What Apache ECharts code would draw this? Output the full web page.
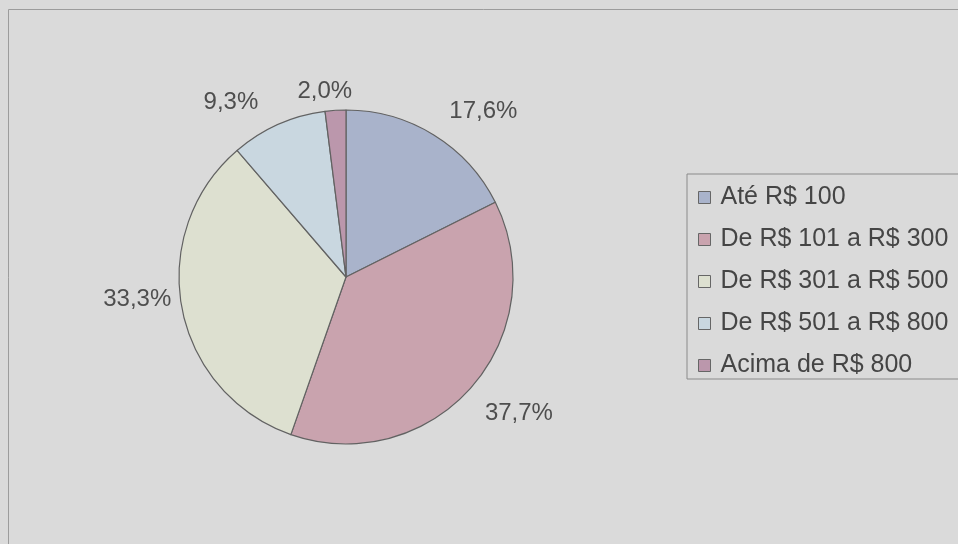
<!DOCTYPE html>
<html>
<head>
<meta charset="utf-8">
<script src="https://cdn.jsdelivr.net/npm/echarts@6/dist/echarts.min.js"></script>
<style>
  html, body { margin: 0; padding: 0; background: #dadada; }
  #chart { width: 958px; height: 544px; }
</style>
</head>
<body>
<div id="chart"></div>
<script>
// Faixas de gasto e participação (%)
const categories = ['Até R$ 100', 'De R$ 101 a R$ 300', 'De R$ 301 a R$ 500', 'De R$ 501 a R$ 800', 'Acima de R$ 800'];
const shares = [17.6, 37.7, 33.3, 9.3, 2.0];
const sliceColors = ['#a9b3cb', '#c9a3ae', '#dde0d0', '#c9d7e0', '#bb97ac'];
// Pequenos ajustes de posição dos rótulos percentuais (px)
const labelNudge = [[-3, -5], [-10, 12], [18, -13], [-4, -2], [25, 3]];

const chart = echarts.init(document.getElementById('chart'), null, { renderer: 'canvas' });

const fmt = v => v.toFixed(1).replace('.', ',') + '%';

chart.setOption({
  backgroundColor: '#dadada',
  animation: false,
  textStyle: { fontFamily: 'Liberation Sans, Arial, sans-serif' },
  graphic: [{
    type: 'rect',
    silent: true,
    shape: { x: 8.5, y: 9.5, width: 1000, height: 600 },
    style: { fill: 'none', stroke: '#9c9c9c', lineWidth: 1 }
  }],
  legend: {
    orient: 'vertical',
    left: 687,
    top: 174,
    data: categories,
    icon: 'rect',
    itemWidth: 12,
    itemHeight: 12,
    itemGap: 17,
    padding: [11, 60, 1, 11],
    borderColor: '#8a8a8a',
    borderWidth: 1,
    backgroundColor: '#dadada',
    selectedMode: false,
    textStyle: { fontSize: 25, color: '#454545', fontFamily: 'Liberation Sans, Arial, sans-serif', padding: [0, 0, 0, 5] },
    itemStyle: { borderColor: '#666', borderWidth: 1 }
  },
  series: [{
    type: 'pie',
    center: [346, 277],
    radius: 167,
    startAngle: 90,
    clockwise: true,
    avoidLabelOverlap: false,
    itemStyle: { borderColor: '#626262', borderWidth: 1.2 },
    label: {
      show: true,
      position: 'outside',
      formatter: p => fmt(p.value),
      fontSize: 24,
      color: '#4e4e4e',
      fontFamily: 'Liberation Sans, Arial, sans-serif'
    },
    labelLine: { show: false, length: 22, length2: 2 },
    labelLayout: p => ({ dx: labelNudge[p.dataIndex][0], dy: labelNudge[p.dataIndex][1] }),
    emphasis: { disabled: true },
    data: categories.map((name, i) => ({
      name,
      value: shares[i],
      itemStyle: { color: sliceColors[i] }
    }))
  }]
});
</script>
</body>
</html>
